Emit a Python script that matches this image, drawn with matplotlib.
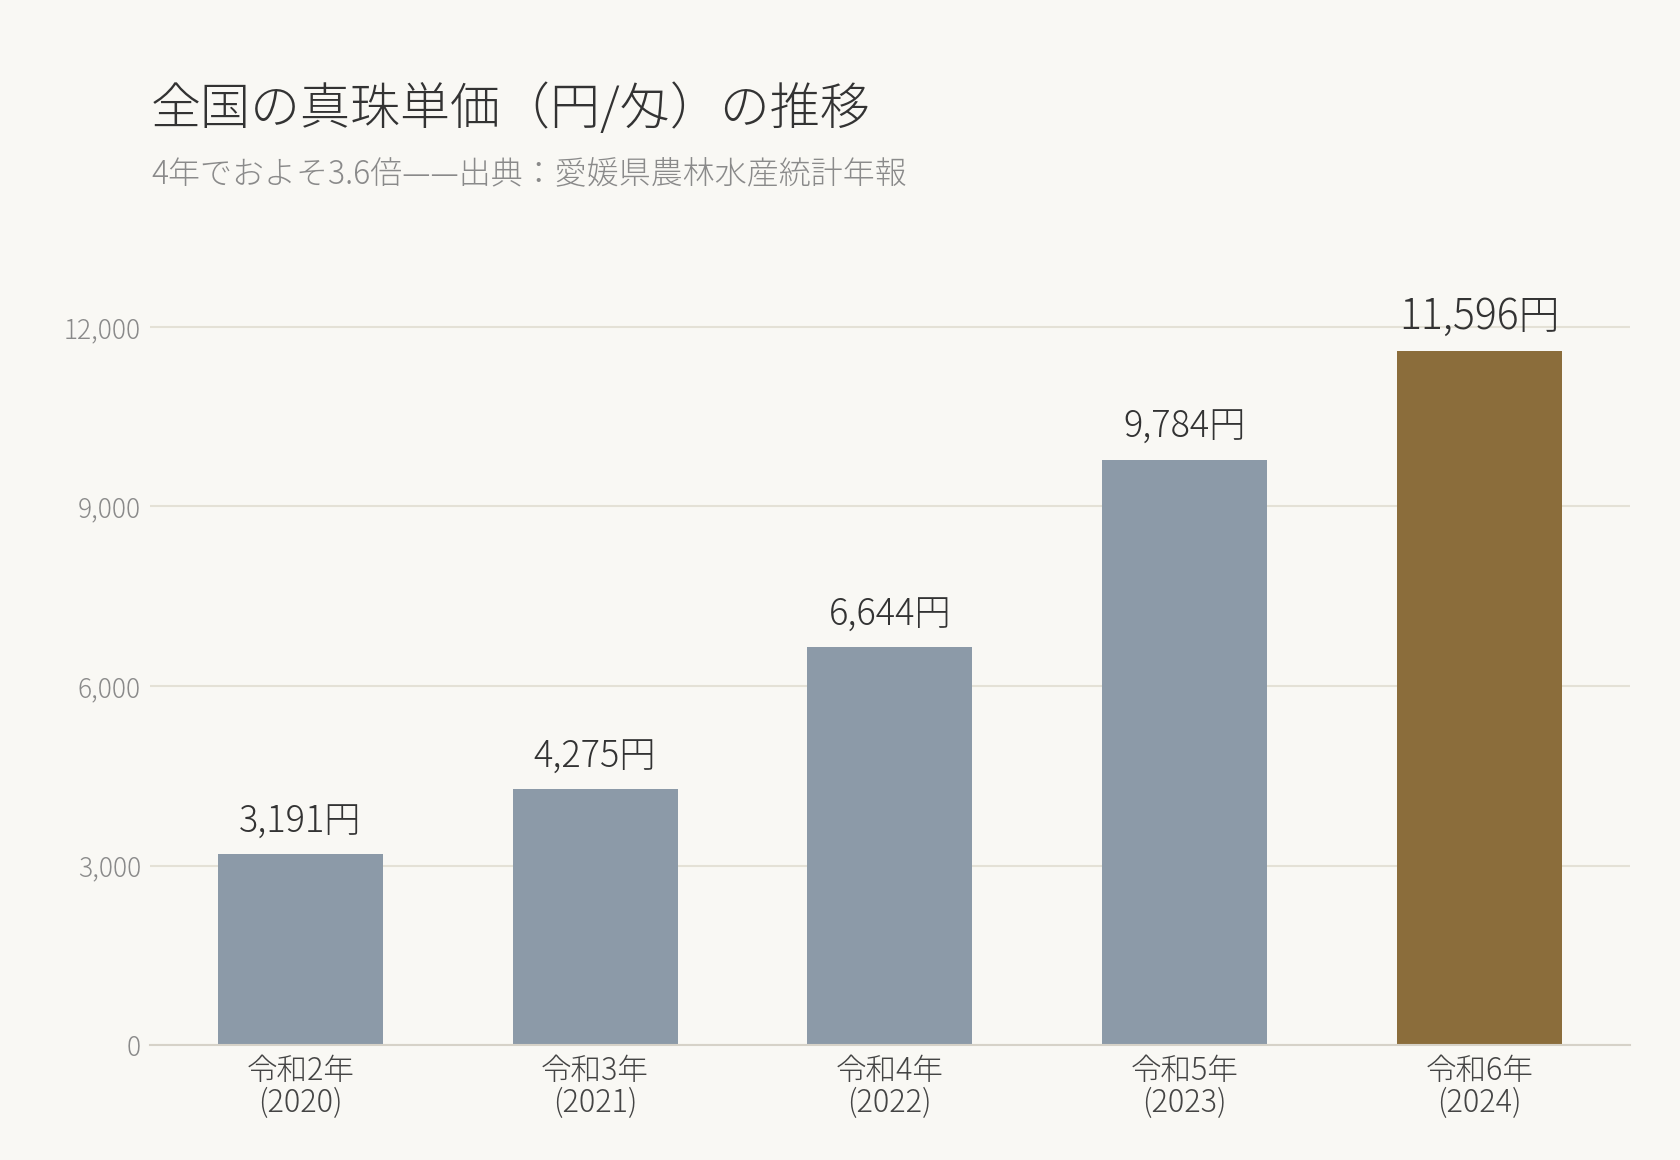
import matplotlib
matplotlib.use("Agg")
import matplotlib.pyplot as plt
from matplotlib.ticker import FuncFormatter

# Data
years = ["令和2年\n(2020)", "令和3年\n(2021)", "令和4年\n(2022)", "令和5年\n(2023)", "令和6年\n(2024)"]
prices = [3191, 4275, 6644, 9784, 11596]
yticks = [0, 3000, 6000, 9000, 12000]

title = "全国の真珠単価（円/匁）の推移"
subtitle = "4年でおよそ3.6倍——出典：愛媛県農林水産統計年報"

plt.rcParams['font.family'] = ['Noto Sans CJK JP', 'DejaVu Sans']

bg = "#f9f8f4"
bar_color = "#8c9aa8"
hi_color = "#8b6d3b"
colors = [bar_color] * (len(prices) - 1) + [hi_color]

fig = plt.figure(figsize=(16.8, 11.6), dpi=100, facecolor=bg)
ax = fig.add_axes([0.0893, 0.0991, 0.8807, 0.6707])
ax.set_facecolor(bg)

x = range(len(prices))
ax.bar(x, prices, width=0.56, color=colors, zorder=3)

# last bar label is drawn larger
for i, v in enumerate(prices):
    last = i == len(prices) - 1
    ax.annotate(f"{v:,}円", (i, v), xytext=(0, 9), textcoords="offset points",
                ha="center", va="bottom", fontsize=29.5 if last else 26,
                color="#333333", fontweight="light")

ax.set_xlim(-0.51, 4.51)
ax.set_ylim(0, 13000)
ax.set_yticks(yticks)
ax.yaxis.set_major_formatter(FuncFormatter(lambda v, p: f"{int(v):,}"))
ax.set_xticks(list(x))
ax.set_xticklabels(years, linespacing=1.0)

ax.grid(axis="y", color="#e4e1d6", linewidth=1.5, zorder=0)
for s in ["top", "right", "left"]:
    ax.spines[s].set_visible(False)
ax.spines["bottom"].set_color("#d6d2c8")
ax.spines["bottom"].set_linewidth(1.5)
ax.spines["bottom"].set_zorder(4)

ax.tick_params(axis="y", length=0, pad=6.5, labelsize=19, labelcolor="#8a8a8a")
ax.tick_params(axis="x", length=0, pad=7, labelsize=22, labelcolor="#444444")
for lbl in ax.get_yticklabels() + ax.get_xticklabels():
    lbl.set_fontweight("light")

fig.text(0.0895, 0.905, title, fontsize=36, color="#333333", va="center", ha="left", fontweight="light")
fig.text(0.0899, 0.849, subtitle, fontsize=23, color="#8a8a8a", va="center", ha="left", fontweight="light")

fig.savefig("out.png", dpi=100, facecolor=bg)
